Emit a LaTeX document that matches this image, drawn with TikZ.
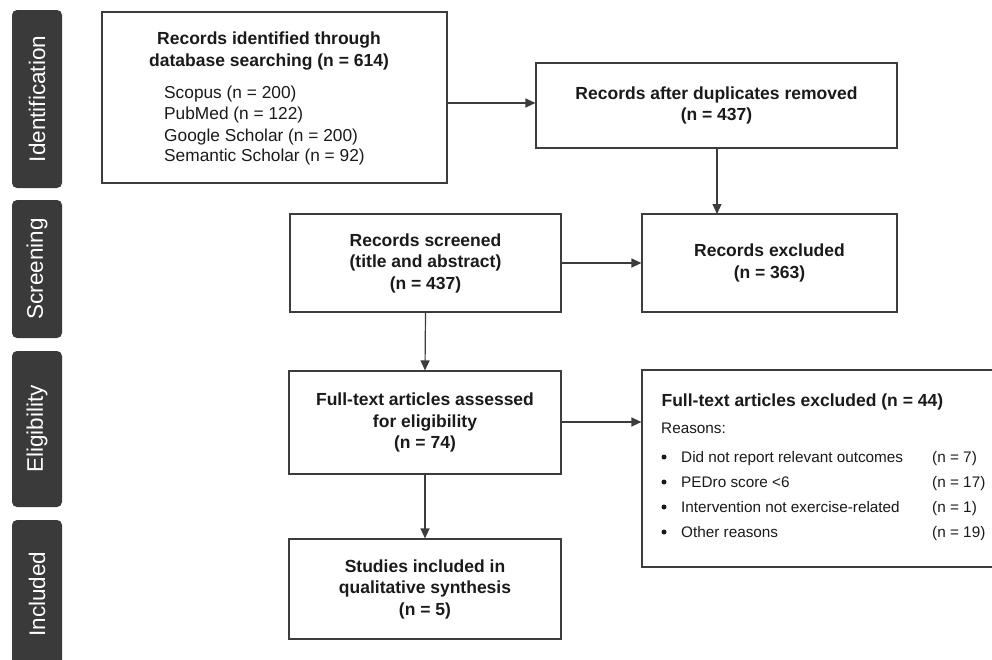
\documentclass[tikz,border=0pt]{standalone}
\usepackage{fontspec}
\setmainfont{Liberation Sans}
\usetikzlibrary{arrows.meta}
\definecolor{bar}{HTML}{3A3A3A}
\definecolor{ln}{HTML}{3C3C3C}
\definecolor{tx}{HTML}{1A1A1A}
\begin{document}
\begin{tikzpicture}[x=1pt,y=-1pt,
  box/.style={draw=ln,line width=1.2pt,rectangle,inner sep=0pt,align=center,text=tx,
    font=\fontsize{17.5}{21.5}\selectfont\bfseries},
  stage/.style={fill=bar,rounded corners=5pt,draw=none},
  stagetext/.style={text=white,rotate=90,font=\fontsize{22.5}{24}\selectfont},
  plain/.style={text=tx,font=\fontsize{17.3}{20}\selectfont,inner sep=0pt},
  small/.style={text=tx,font=\fontsize{15.3}{18}\selectfont,inner sep=0pt,anchor=base west},
  arr/.style={draw=ln,line width=1.2pt,-{Triangle[length=10pt,width=9pt]}}]
\useasboundingbox (0,0) rectangle (992,659);
\fill[white] (0,0) rectangle (992,659);
% stage bars
\filldraw[stage] (12,10) rectangle (62,188);
\node[stagetext] (s1) at (37,99) {Identification};
\filldraw[stage] (12,200) rectangle (62,338);
\node[stagetext] (s2) at (37,269) {Screening};
\filldraw[stage] (12,351) rectangle (62,507);
\node[stagetext] (s3) at (37,429) {Eligibility};
\filldraw[stage] (12,520) rectangle (62,670);
\node[stagetext] (s4) at (37,594) {Included};
% box 1
\node[box,minimum width=345pt,minimum height=171pt] (b1) at (274.5,97.5) {};
\node[box,draw=none] (b1t) at (269,51) {Records identified through\\database searching (n = 614)};
\node[plain,anchor=west] (b1a) at (164,94) {Scopus (n = 200)};
\node[plain,anchor=west] (b1b) at (164,115) {PubMed (n = 122)};
\node[plain,anchor=west] (b1c) at (164,137) {Google Scholar (n = 200)};
\node[plain,anchor=west] (b1d) at (164,157) {Semantic Scholar (n = 92)};
% box 2
\node[box,minimum width=361pt,minimum height=85pt] (b2) at (716.5,105.5) {Records after duplicates removed\\(n = 437)};
% excluded 363
\node[box,minimum width=255pt,minimum height=98pt] (b3) at (769.5,263) {Records excluded\\(n = 363)};
% screened
\node[box,minimum width=271pt,minimum height=98pt] (b4) at (425.5,263) {Records screened\\(title and abstract)\\(n = 437)};
% eligibility
\node[box,minimum width=272pt,minimum height=103pt] (b5) at (425,422.5) {Full-text articles assessed\\for eligibility\\(n = 74)};
% included
\node[box,minimum width=272pt,minimum height=100pt] (b6) at (425,589) {Studies included in\\qualitative synthesis\\(n = 5)};
% excluded 44 (right side runs past the picture's edge)
\node[box,minimum width=356pt,minimum height=197pt] (b7) at (820,468.5) {};
\node[box,draw=none,anchor=west] (b7t) at (661,402) {Full-text articles excluded (n = 44)};
\node[small] (r0) at (661,433) {Reasons:};
\foreach \y/\t/\n [count=\i] in {457/Did not report relevant outcomes/7, 482/PEDro score <6/17, 507/Intervention not exercise-related/1, 532/Other reasons/19}{
  \fill[tx] (664,\y) circle (2.5pt);
  \node[small] (r\i) at (681,\y+5.5) {\t};
  \node[small] (n\i) at (932,\y+5.5) {(n = \n)};
}
% arrows
\draw[arr] (b1.east |- 0,103) -- (b2.west |- 0,103);
\draw[arr] (717,148) -- (717,214);
\draw[arr] (b4.east) -- (b3.west);
\draw[arr] (b4.south) -- (b5.north);
\draw[arr] (b5.south) -- (b6.north);
\draw[arr] (b5.east |- 0,422) -- (b7.west |- 0,422);
\end{tikzpicture}
\end{document}
